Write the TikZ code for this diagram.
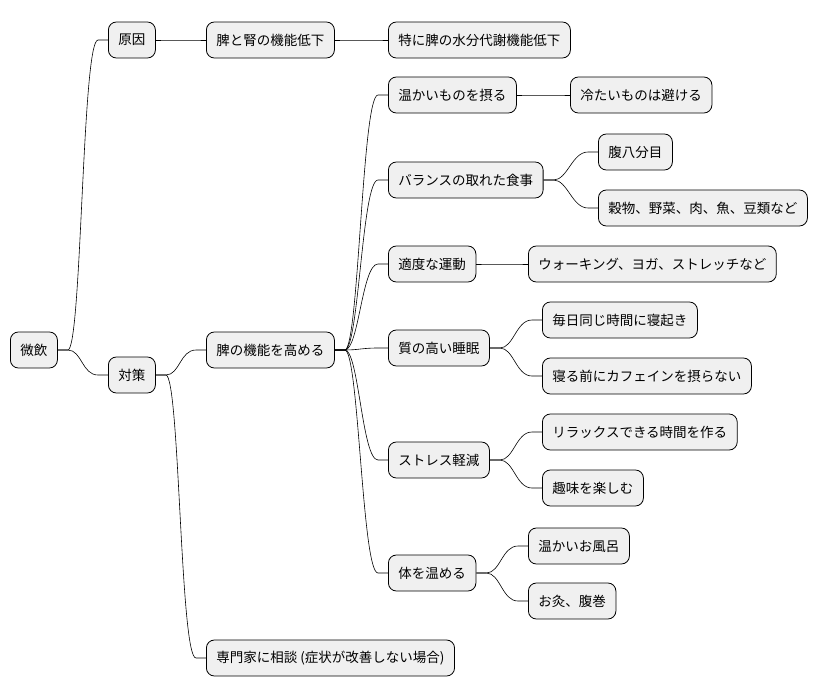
\documentclass[tikz,border=0pt]{standalone}
\usepackage{fontspec}
\setmainfont{Noto Sans CJK JP}
\usetikzlibrary{calc}
\begin{document}
\begin{tikzpicture}[x=1pt,y=-1pt,
  box/.style={draw=black,line width=0.8pt,fill=black!6,rounded corners=8pt,minimum height=36pt,inner xsep=10pt,anchor=west,font=\fontsize{13.5pt}{16pt}\selectfont},
  conn/.style={line width=0.6pt}]
\useasboundingbox (0,0) rectangle (824,696);
\node[box] (r) at (10,350) {微飲};
\node[box] (a) at (108,40) {原因};
\node[box] (b) at (108,375) {対策};
\node[box] (a1) at (206,40) {脾と腎の機能低下};
\node[box] (a2) at (388,40) {特に脾の水分代謝機能低下};
\node[box] (b1) at (206,350) {脾の機能を高める};
\node[box] (b2) at (206,658) {専門家に相談 (症状が改善しない場合)};
\node[box] (c1) at (388,95) {温かいものを摂る};
\node[box] (c1a) at (570,95) {冷たいものは避ける};
\node[box] (c2) at (388,180) {バランスの取れた食事};
\node[box] (c2a) at (598,152) {腹八分目};
\node[box] (c2b) at (598,208) {穀物、野菜、肉、魚、豆類など};
\node[box] (c3) at (388,264) {適度な運動};
\node[box] (c3a) at (528,264) {ウォーキング、ヨガ、ストレッチなど};
\node[box] (c4) at (388,348) {質の高い睡眠};
\node[box] (c4a) at (542,320) {毎日同じ時間に寝起き};
\node[box] (c4b) at (542,376) {寝る前にカフェインを摂らない};
\node[box] (c5) at (388,460) {ストレス軽減};
\node[box] (c5a) at (542,432) {リラックスできる時間を作る};
\node[box] (c5b) at (542,488) {趣味を楽しむ};
\node[box] (c6) at (388,573) {体を温める};
\node[box] (c6a) at (528,546) {温かいお風呂};
\node[box] (c6b) at (528,601) {お灸、腹巻};
\foreach \p/\c in {r/a,r/b,a/a1,a1/a2,b/b1,b/b2,b1/c1,c1/c1a,b1/c2,c2/c2a,c2/c2b,b1/c3,c3/c3a,b1/c4,c4/c4a,c4/c4b,b1/c5,c5/c5a,c5/c5b,b1/c6,c6/c6a,c6/c6b}{
  \draw[conn] (\p.east) -- ++(10,0) coordinate (s)
    .. controls ($(s)+(14,0)$) and ($(\c.west)+(-26,0)$) .. ($(\c.west)+(-10,0)$) -- (\c.west);
}
\end{tikzpicture}
\end{document}
